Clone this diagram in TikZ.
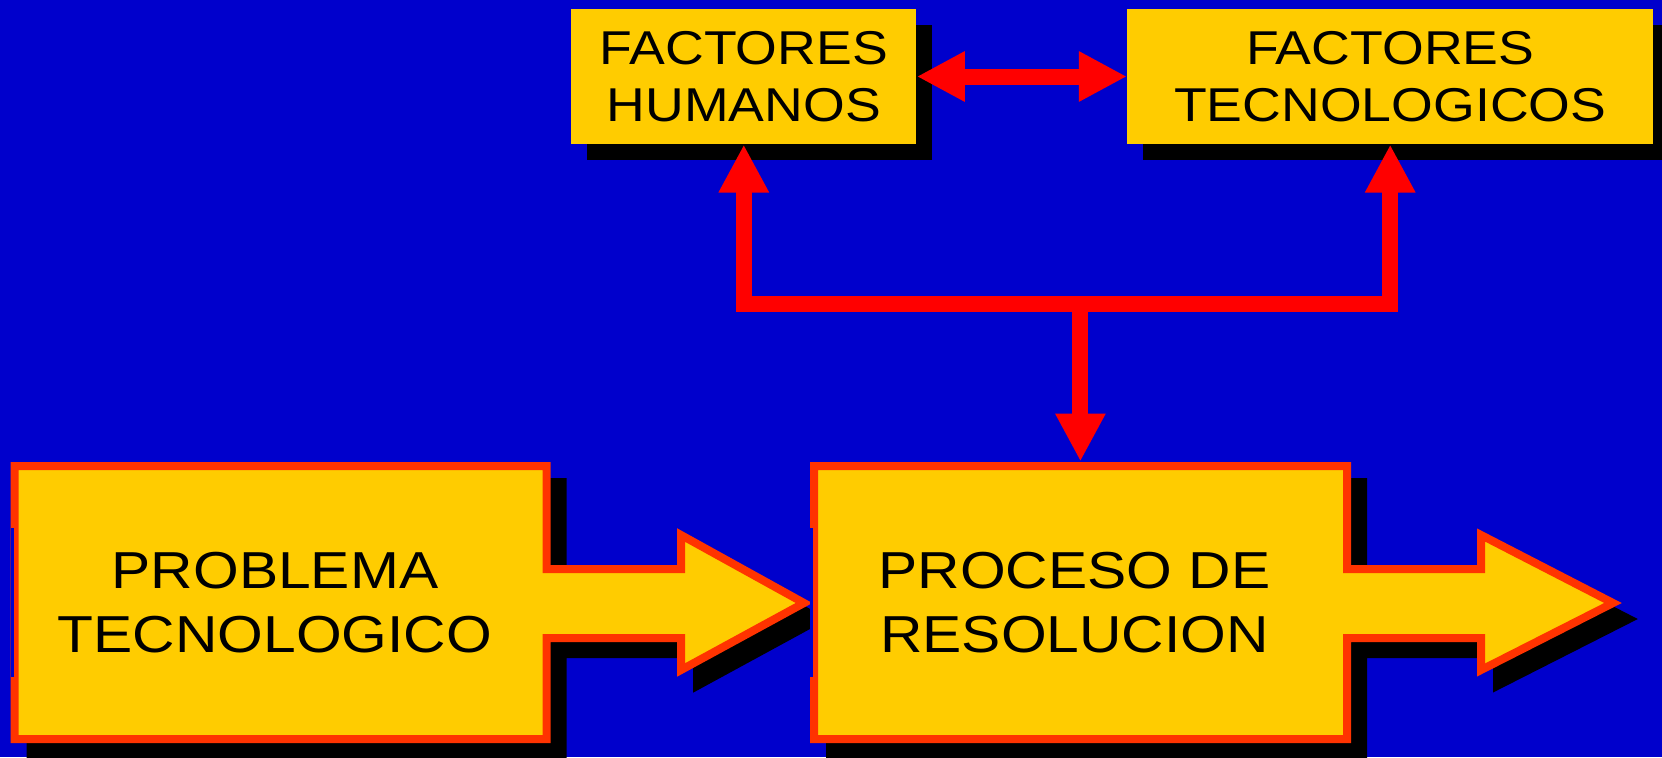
\documentclass[tikz,border=0pt]{standalone}
\usepackage{fontspec}
\setmainfont{Liberation Sans}[FakeStretch=1.13]
\usetikzlibrary{arrows.meta,shadows}

\definecolor{slideblue}{RGB}{0,0,204}
\definecolor{boxyellow}{RGB}{255,204,0}
\definecolor{rimred}{RGB}{255,51,0}
\definecolor{linkred}{RGB}{255,0,0}

\tikzset{every picture/.style={line width=0.75pt}}
\tikzset{
  factorbox/.style={fill=boxyellow, inner sep=0pt, minimum height=101.25pt, align=center,
    font=\fontsize{35.6}{42.75}\selectfont,
    drop shadow={shadow xshift=12pt, shadow yshift=-12pt, opacity=1, fill=black}},
  stagelabel/.style={inner sep=0pt, align=center, minimum width=405pt, minimum height=210.75pt,
    font=\fontsize{39}{47.8}\selectfont},
  link/.style={draw=linkred, line width=12pt, line join=miter},
  >={Triangle[length=36pt,width=35.25pt]}
}

\begin{document}
\begin{tikzpicture}[x=0.75pt,y=0.75pt,yscale=-1,xscale=1]
			\useasboundingbox (0,0) rectangle (1662,757);
			\fill [slideblue] (0,0) rectangle (1662,757);
			
			%Shape: Shadow of Box Arrow 1
			\begin{scope}[shift={(16,16)}]
			\draw  [black,fill=black,line width=6pt,line join=miter] (14.6,466) -- (546.6,466) -- (546.6,569) -- (681,569) -- (681,535) -- (804,603) -- (681,670) -- (681,638) -- (546.6,638) -- (546.6,739) -- (14.6,739) -- cycle ;
			\end{scope}
			%Shape: Box Arrow 1
			\draw  [rimred,fill=boxyellow,line width=6pt,line join=miter] (14.6,466) -- (546.6,466) -- (546.6,569) -- (681,569) -- (681,535) -- (804,603) -- (681,670) -- (681,638) -- (546.6,638) -- (546.6,739) -- (14.6,739) -- cycle ;
			\fill  [slideblue] (10.6,528) rectangle (13.8,677) ;
			
			%Shape: Shadow of Box Arrow 2
			\begin{scope}[shift={(16,16)}]
			\draw  [black,fill=black,line width=6pt,line join=miter] (814,466) -- (1347,466) -- (1347,569) -- (1481,569) -- (1481,535) -- (1613,603) -- (1481,670) -- (1481,638) -- (1347,638) -- (1347,739) -- (814,739) -- cycle ;
			\end{scope}
			%Shape: Box Arrow 2
			\draw  [rimred,fill=boxyellow,line width=6pt,line join=miter] (814,466) -- (1347,466) -- (1347,569) -- (1481,569) -- (1481,535) -- (1613,603) -- (1481,670) -- (1481,638) -- (1347,638) -- (1347,739) -- (814,739) -- cycle ;
			\fill  [slideblue] (809.9,528) rectangle (813,677) ;
			
			% Text Node
			\node [factorbox, minimum width=258.75pt] (hum) at (743.8,76.5) {FACTORES\\HUMANOS};
			% Text Node
			\node [factorbox, minimum width=394.2pt] (tec) at (1390.2,76.5) {FACTORES\\TECNOLOGICOS};
			% Text Node
			\node [stagelabel] (prob) at (275,602.5) {PROBLEMA\\TECNOLOGICO};
			% Text Node
			\node [stagelabel] (proc) at (1074.5,602.5) {PROCESO DE\\RESOLUCION};
			
			\coordinate (split) at (1080.4,304);
			%Straight Lines
			\draw [link,<->] (hum.east) -- (tec.west) ;
			%Connector
			\draw [link,<->] (hum.south) |- (split) -| (tec.south) ;
			%Straight Lines
			\draw [link,->] (split) -- (split |- proc.north) ;
			
		\end{tikzpicture}
\end{document}
